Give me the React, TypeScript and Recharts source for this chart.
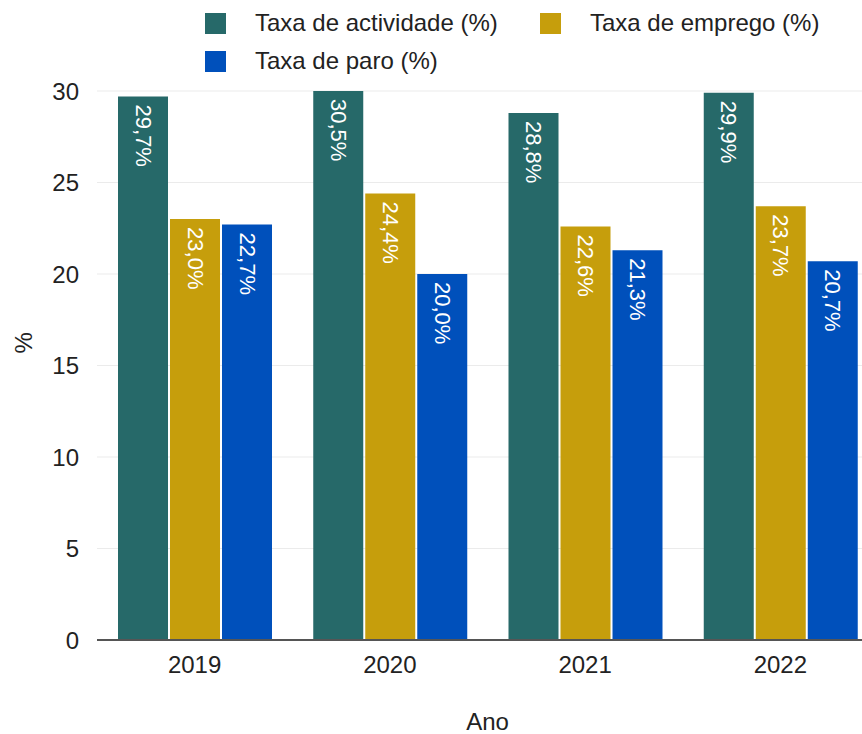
import { BarChart, Bar, XAxis, YAxis, CartesianGrid, Label } from "recharts";

const years = ["2019", "2020", "2021", "2022"];
const actividade = [29.7, 30.5, 28.8, 29.9];
const emprego = [23.0, 24.4, 22.6, 23.7];
const paro = [22.7, 20.0, 21.3, 20.7];
const yTicks = [0, 5, 10, 15, 20, 25, 30];

const series = [
  { key: "actividade", name: "Taxa de actividade (%)", color: "#266969" },
  { key: "emprego", name: "Taxa de emprego (%)", color: "#c69e0c" },
  { key: "paro", name: "Taxa de paro (%)", color: "#0050bb" },
];

const data = years.map((y, i) => ({
  year: y,
  actividade: actividade[i],
  emprego: emprego[i],
  paro: paro[i],
}));

const FONT = "'Liberation Sans', Arial, sans-serif";
const TXT = "#222222";

function RotLabel(props: any) {
  const { x, y, width, value } = props;
  const cx = x + width / 2;
  const top = Math.max(y, 91) + 8;
  return (
    <text
      x={cx}
      y={top}
      fill="#ffffff"
      fontSize={22}
      fontFamily={FONT}
      textAnchor="start"
      dominantBaseline="central"
      transform={`rotate(90, ${cx}, ${top})`}
    >
      {value.toFixed(1).replace(".", ",") + "%"}
    </text>
  );
}

// legend drawn as an overlay so it doesn't shrink the plot area
function LegendBox() {
  const item = (s: any, left: number, top: number) => (
    <div key={s.key} style={{ position: "absolute", left, top, display: "flex", alignItems: "center", height: 22 }}>
      <div style={{ width: 21, height: 21, background: s.color, marginRight: 29 }} />
      <span style={{ fontSize: 24, color: TXT, fontFamily: FONT, whiteSpace: "nowrap" }}>{s.name}</span>
    </div>
  );
  return (
    <div style={{ position: "absolute", left: 0, top: 0, width: 862, height: 80 }}>
      {item(series[0], 205, 12)}
      {item(series[1], 540, 12)}
      {item(series[2], 205, 50)}
    </div>
  );
}

export default function App() {
  // the plot runs a little past the right edge of the frame, as in the source
  return (
    <div style={{ position: "absolute", left: 0, top: 0, width: 862, height: 734, overflow: "hidden", background: "#fff" }}>
      <BarChart
        width={878}
        height={734}
        data={data}
        margin={{ top: 91, right: 0, bottom: 0, left: 37 }}
        barCategoryGap={21}
        barGap={2}
      >
        <CartesianGrid vertical={false} stroke="#ebebeb" />
        <XAxis
          dataKey="year"
          tickLine={false}
          axisLine={{ stroke: "#555", strokeWidth: 2 }}
          tick={{ fontSize: 24, fill: TXT, fontFamily: FONT }}
          tickMargin={10}
          height={94}
        >
          <Label value="Ano" position="insideBottom" offset={4} style={{ fontSize: 24, fill: TXT, fontFamily: FONT }} />
        </XAxis>
        <YAxis
          domain={[0, 30]}
          ticks={yTicks}
          allowDataOverflow
          tickLine={false}
          axisLine={false}
          width={60}
          tick={{ fontSize: 24, fill: TXT, fontFamily: FONT }}
          tickMargin={12}
        >
          <Label value="%" angle={-90} position="insideLeft" offset={-14} dy={-12} style={{ fontSize: 24, fill: TXT, fontFamily: FONT }} />
        </YAxis>
        {series.map((s) => (
          <Bar
            key={s.key}
            dataKey={s.key}
            name={s.name}
            fill={s.color}
            isAnimationActive={false}
            label={<RotLabel />}
          />
        ))}
      </BarChart>
      <LegendBox />
    </div>
  );
}
